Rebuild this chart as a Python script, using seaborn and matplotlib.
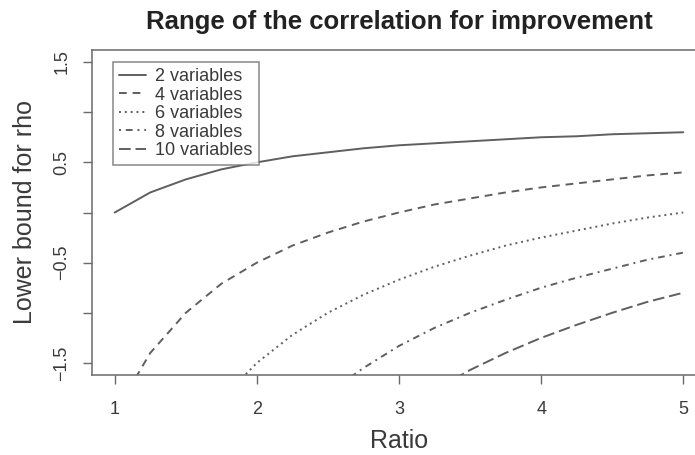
import matplotlib
matplotlib.use("Agg")
import matplotlib.pyplot as plt
import seaborn as sns
import pandas as pd

# Ratio grid and lower bound of rho for each number of variables
ratio = [1.00, 1.25, 1.50, 1.75, 2.00, 2.25, 2.50, 2.75, 3.00,
         3.25, 3.50, 3.75, 4.00, 4.25, 4.50, 4.75, 5.00]
rho_2 = [0.00, 0.20, 0.33, 0.43, 0.50, 0.56, 0.60, 0.64, 0.67,
         0.69, 0.71, 0.73, 0.75, 0.76, 0.78, 0.79, 0.80]
rho_4 = [-2.00, -1.40, -1.00, -0.71, -0.50, -0.33, -0.20, -0.09, 0.00,
         0.08, 0.14, 0.20, 0.25, 0.29, 0.33, 0.37, 0.40]
rho_6 = [-4.00, -3.00, -2.33, -1.86, -1.50, -1.22, -1.00, -0.82, -0.67,
         -0.54, -0.43, -0.33, -0.25, -0.18, -0.11, -0.05, 0.00]
rho_8 = [-6.00, -4.60, -3.67, -3.00, -2.50, -2.11, -1.80, -1.55, -1.33,
         -1.15, -1.00, -0.87, -0.75, -0.65, -0.56, -0.47, -0.40]
rho_10 = [-8.00, -6.20, -5.00, -4.14, -3.50, -3.00, -2.60, -2.27, -2.00,
          -1.77, -1.57, -1.40, -1.25, -1.12, -1.00, -0.89, -0.80]

labels = ["2 variables", "4 variables", "6 variables", "8 variables", "10 variables"]
series = [rho_2, rho_4, rho_6, rho_8, rho_10]
x_ticks = [1, 2, 3, 4, 5]
y_ticks = [-1.5, -1.0, -0.5, 0.0, 0.5, 1.0, 1.5]
y_ticklabels = ["\u22121.5", "", "\u22120.5", "", "0.5", "", "1.5"]

# R-style line types: solid, dashed, dotted, dotdash, longdash
dash_styles = ["-", (0, (4, 3)), (0, (1, 2)), (0, (1, 2.5, 3.5, 2.5)), (0, (6, 2.5))]

sns.set_theme(style="white")
plt.rcParams["font.family"] = ["Liberation Sans", "DejaVu Sans"]

line_color = "#5f5f5f"
text_color = "#3a3a3a"
frame_color = "#6a6a6a"

fig = plt.figure(figsize=(6.95, 4.55), dpi=100)
ax = fig.add_axes([92 / 695, 80 / 455, 614 / 695, 325 / 455])

for lab, vals, ls in zip(labels, series, dash_styles):
    df = pd.DataFrame({"Ratio": ratio, "rho": vals})
    sns.lineplot(data=df, x="Ratio", y="rho", ax=ax, color=line_color,
                 linewidth=1.4, linestyle=ls, label=lab)

ax.set_xlim(0.84, 5.16)
ax.set_ylim(-1.62, 1.62)
ax.set_xticks(x_ticks)
ax.set_xticklabels([str(v) for v in x_ticks])
ax.set_yticks(y_ticks)
ax.set_yticklabels(y_ticklabels, rotation=90, va="center")

ax.tick_params(axis="both", direction="out", length=6.5, width=1,
               color=frame_color, labelcolor=text_color, labelsize=13,
               bottom=True, left=True)
ax.tick_params(axis="x", pad=12)
ax.tick_params(axis="y", pad=9)

for side in ["top", "right", "bottom", "left"]:
    ax.spines[side].set_color(frame_color)
    ax.spines[side].set_linewidth(1.1)

ax.set_xlabel("Ratio", fontsize=18, color=text_color, labelpad=8)
ax.set_ylabel("Lower bound for rho", fontsize=18, color=text_color, labelpad=12)
ax.set_title("Range of the correlation for improvement", fontsize=18.5,
             fontweight="bold", color="#222222", pad=15)

leg = ax.legend(loc="upper left", bbox_to_anchor=(0.034, 0.963), borderaxespad=0,
                fontsize=13, frameon=True, fancybox=False, handlelength=1.5,
                handletextpad=0.5, labelspacing=0.08, borderpad=0.35)
leg.get_frame().set_edgecolor(frame_color)
leg.get_frame().set_linewidth(1.1)
for t in leg.get_texts():
    t.set_color(text_color)

fig.savefig("out.png", dpi=100)
